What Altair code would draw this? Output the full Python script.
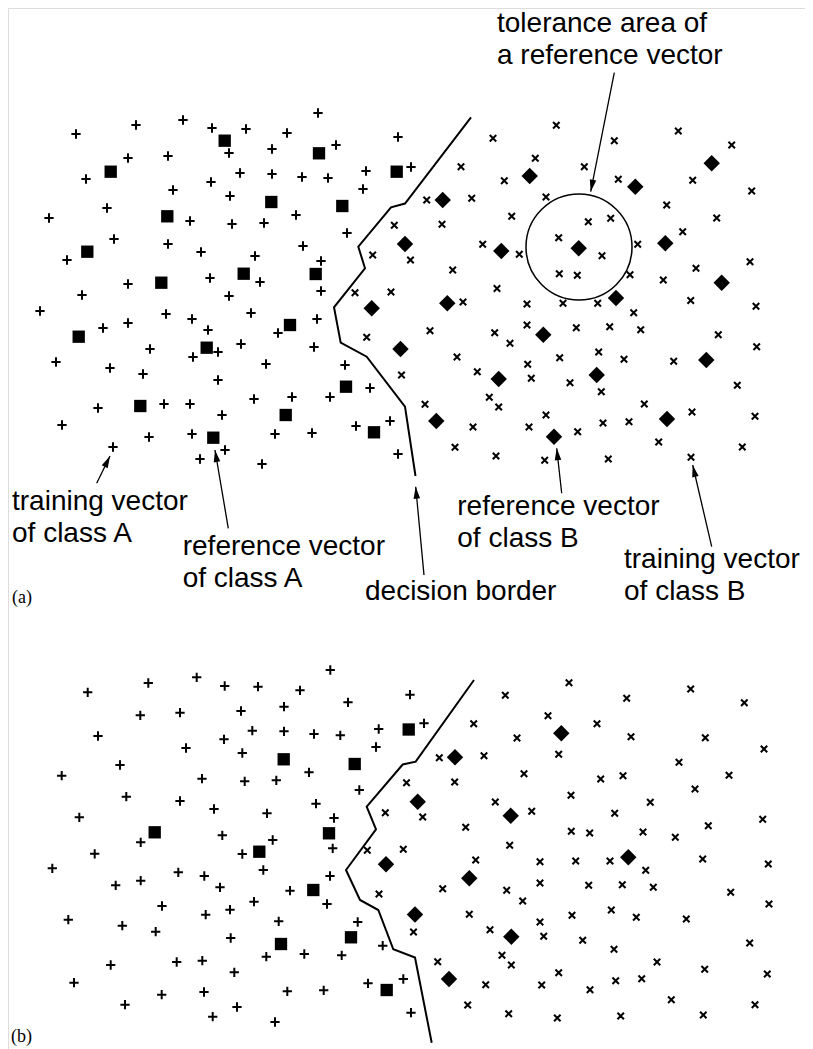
import math
import altair as alt
import pandas as pd

# ---------------- panel (a) ----------------
a_train_A = [
    (318, 113), (136, 125), (183, 120), (76, 134), (212, 128), (246, 129), (287, 133), (398, 137),
    (336, 145), (229, 153), (272, 149), (168, 156), (128, 158), (411, 167), (86, 179), (240, 173),
    (272, 174), (302, 177), (328, 178), (366, 171), (211, 182), (173, 190), (230, 196), (363, 189),
    (107, 208), (49, 218), (190, 221), (232, 224), (264, 223), (296, 215), (347, 233), (114, 239),
    (168, 244), (201, 252), (255, 256), (303, 246), (321, 261), (67, 260), (128, 284), (210, 278),
    (260, 282), (321, 291), (82, 295), (229, 296),
    (40, 311), (166, 314), (192, 319), (251, 313), (317, 319), (103, 328), (128, 323), (208, 330),
    (278, 333), (150, 349), (193, 357), (218, 352), (241, 344), (314, 347), (56, 362), (110, 368),
    (143, 374), (218, 380), (266, 364), (345, 365), (98, 408), (164, 404), (190, 404), (254, 399),
    (292, 397), (330, 397), (370, 388), (62, 425), (222, 415), (149, 437), (192, 434), (275, 434),
    (312, 433), (356, 426), (390, 421), (113, 447), (225, 450), (200, 459), (262, 464), (398, 454),
]
a_ref_A = [
    (224.7, 140.7), (319, 153.3), (110.7, 171.7), (396.7, 171.7), (271.3, 202), (342.3, 206),
    (167.3, 216.3), (87.3, 251.7), (243.7, 273.7), (315.7, 274), (161.3, 282.7), (78.7, 336.7),
    (290, 325), (206.7, 347.7), (346, 386.7), (140.3, 406), (285.7, 415), (374, 432.3), (213.3, 437.7),
]
a_train_B = [
    (394.3, 225.3), (372.7, 255), (410.5, 260), (355, 292.7), (391, 292), (366.7, 337.3), (401.5, 375),
    (556.3, 125.3), (493, 138.3), (614.3, 140.7), (678.3, 131), (731.7, 145), (535.3, 158.3),
    (461, 166.7), (584.3, 166.7), (504.3, 180.7), (618.3, 179.3), (692.7, 180.3), (751.7, 191),
    (426.7, 200), (471.7, 198.3), (546, 197), (666.7, 205), (442, 224.3), (511.7, 216.3),
    (588.3, 221.7), (610.7, 218.3), (716.7, 218), (558.7, 237.7), (682.7, 231.7), (482.7, 244.3),
    (519.3, 254.3), (602, 255.7), (637.7, 244.3), (750, 261.7), (452.7, 270), (559.3, 273.7),
    (577.3, 275.3), (630, 274.7), (696, 268.3), (663.3, 280), (497, 288.5), (690.7, 300.5),
    (463, 302), (527, 304), (563, 303.3), (597.7, 303.3), (633.7, 312.7), (756, 306.3),
    (430, 330.7), (494.7, 332.7), (527, 325), (510, 343.3), (576.3, 327.7), (609.7, 326.7),
    (640.7, 329.7), (718.3, 334.7), (756.7, 346.7), (457, 357), (477.3, 371.7), (527.7, 364.3),
    (531.3, 378.3), (559.7, 357.7), (598.7, 352), (624, 359.3), (673.7, 361.3), (570, 382.7),
    (601.3, 391.7), (737.3, 385.3), (425, 404.3), (489.3, 397.3), (498.7, 407), (546, 415),
    (644.3, 404), (692, 412), (755, 416.3), (473, 427), (529, 427), (577.7, 431.7), (603, 423),
    (629, 421.7), (658.7, 442), (742.3, 447), (455, 447.3), (496, 456), (544.7, 460.3),
    (608.3, 459), (691, 457.3),
]
a_ref_B = [
    (405, 244), (371.7, 308.3), (400.5, 349), (711.7, 163.3), (529.7, 176), (635.3, 186.7),
    (442.7, 200), (501.3, 251), (578.7, 248.3), (665.3, 243.3), (721.7, 282.7), (616, 298),
    (447.3, 303.3), (543.3, 334.7), (706.3, 360), (498.7, 379), (596.7, 375), (436.3, 421),
    (667, 419), (554, 436.7),
]
a_border = [
    (471, 117.3), (405, 203.5), (391, 207.3), (358.3, 246.7), (365, 268.3), (334, 307.3),
    (340.7, 342.7), (366.7, 356.7), (405, 406.7), (415.5, 476),
]
a_circle = [(579, 247)]
a_circle_diameter = 106

# ---------------- panel (b) ----------------
b_train_A = [
    (330.3, 670), (148.3, 683), (196.7, 677.3), (87.7, 692.3), (224.7, 686), (258, 686.7),
    (300, 690.3), (410, 694.7), (348, 702.3), (140.3, 715.3), (180, 712.7), (241, 711),
    (284, 706.7), (98, 736), (252.3, 730.7), (284, 731.3), (314, 734), (340.3, 735.3),
    (378.7, 729), (224, 739.3), (186, 748), (242.3, 753), (376, 747), (120, 765), (61.7, 775.7),
    (202, 778.7), (244.7, 781.3), (276.3, 780.3), (309, 772.3), (359.3, 790), (126.3, 796.7),
    (180, 801), (214, 809), (267, 813.3), (316, 803.7), (334, 818), (79.3, 817.3), (140.7, 842.3),
    (222.3, 835.3), (272.7, 840), (332.7, 848.3), (94.7, 853.8), (242.3, 854), (424, 723.3),
    (52.3, 868.3), (178.3, 872.3), (204.3, 876), (140.7, 880.7), (115.7, 885.3), (220, 887.3),
    (263.3, 870), (330, 876), (290, 890.7), (327, 904), (254, 901.7), (162, 906), (230, 909.7),
    (205.7, 914.7), (68.3, 919.7), (122.3, 925.7), (155.7, 931.7), (230.7, 938), (278.7, 921.3),
    (357.7, 922), (382.7, 945.7), (110.7, 965), (176.7, 962), (202.3, 960.7), (266.3, 956.7),
    (304.3, 954), (341.7, 955.3), (234.3, 972.3), (74, 982.7), (161.7, 994.7), (204, 992),
    (287.3, 991.3), (323.7, 990.3), (368, 983.3), (403.3, 979), (125, 1004.7), (237, 1007),
    (212.7, 1016.7), (275, 1022), (411, 1012.7),
]
b_ref_A = [
    (408.7, 729.5), (283.7, 759.3), (354.7, 764), (154.7, 832.3), (329, 833.3), (259.3, 851.7),
    (313.3, 890), (281, 944), (351, 937.3), (386.7, 990),
]
b_train_B = [
    (406.5, 782.7), (385.3, 812.7), (367.3, 850.3), (403.3, 849.3), (379, 894), (413.5, 932),
    (569, 682.7), (505.3, 695.3), (626.7, 698.3), (690.7, 689), (744.3, 702.7), (548, 715.7),
    (473.7, 723.7), (597, 723.7), (517, 738), (631, 736.7), (705.3, 737.7), (764, 749),
    (439.3, 757.7), (484, 755.7), (558.7, 754.3), (679, 762.3), (454.7, 782), (524, 773.7),
    (600.7, 779), (623, 775.7), (729, 775.3), (695, 789), (571, 795.3), (495.3, 802),
    (422.7, 817), (531.7, 811.3), (614.7, 813.3), (650.3, 802.3), (762.7, 819.3), (465.7, 827.3),
    (571.3, 831.3), (589.7, 833), (643, 832), (675.3, 837.3), (708.3, 825.7), (509.7, 845.3),
    (475.7, 860), (540, 861.7), (575.7, 861), (610, 861), (702.7, 859), (768.3, 864),
    (645.7, 870.3), (442.7, 888.7), (506.7, 890.3), (540, 883), (522.7, 901), (588.7, 885.3),
    (622.3, 884.7), (653.3, 887.3), (730.7, 892.3), (769, 904), (469.3, 914.3), (490, 929.7),
    (540, 922), (543.7, 936.3), (572, 915.3), (611.3, 910), (636.3, 917.3), (686.3, 919),
    (582.7, 940.3), (614, 949.3), (749.7, 943), (437.7, 961.7), (502, 955.3), (511.3, 965),
    (657, 962), (704.7, 969.3), (767.3, 974), (485.7, 984.7), (541.7, 985), (558.7, 972.7),
    (590, 989.7), (615.7, 980.7), (641.7, 978.7), (671.3, 999.7), (755, 1004.7), (467.7, 1005),
    (508.7, 1013.7), (557.3, 1018), (620.7, 1016), (703.3, 1015),
]
b_ref_B = [
    (561.3, 733.3), (455, 757.3), (417.7, 801.7), (510.7, 815.7), (628.3, 857.3), (386, 864.3),
    (415, 914.5), (469.3, 878.3), (511.3, 936.7), (449, 979),
]
b_border = [
    (474, 680), (415.7, 761.7), (402.7, 764.5), (366.7, 806.7), (376, 829.3), (346, 870),
    (360, 900), (378.3, 910), (393.3, 949.3), (415, 957.5), (431.7, 1042.7),
]

# ---------------- annotations ----------------
label_text = ["tolerance area of", "a reference vector",
              "training vector", "of class A", "reference vector", "of class A", "decision border",
              "reference vector", "of class B", "training vector", "of class B"]
label_pos = [(497, 31.5), (497, 63.5),
             (12, 510), (12, 541.7), (182.7, 555), (182.7, 586.7), (365, 600),
             (457.3, 514.5), (457.3, 546.7), (624, 568.3), (624, 600)]
panel_text = ["(a)", "(b)"]
panel_pos = [(12, 603), (11, 1042)]
arrow_tail = [(96.7, 483.3), (228.3, 528.3), (424, 575), (561.7, 493.3), (711.7, 546.7), (614.3, 72.7)]
arrow_tip = [(110, 456), (215, 450), (415.7, 486.7), (556.7, 448.3), (692.7, 465), (590.7, 191.7)]
head_len = 12


def pts(points):
    return pd.DataFrame({"x": [p[0] for p in points], "y": [p[1] for p in points]})


X = alt.X("x:Q", scale=alt.Scale(domain=[8, 805], nice=False, zero=False), axis=None)
Y = alt.Y("y:Q", scale=alt.Scale(domain=[8, 1049], nice=False, zero=False, reverse=True), axis=None)

PLUS = "M-1,0L1,0M0,-1L0,1"
CROSS = "M-1,-1L1,1M-1,1L1,-1"
HEAD = "M0,-1L0.55,1L-0.55,1Z"


def plus_layer(points):
    return alt.Chart(pts(points)).mark_point(shape=PLUS, filled=False, size=86, strokeWidth=2,
                                             color="black", opacity=1).encode(X, Y)


def cross_layer(points):
    return alt.Chart(pts(points)).mark_point(shape=CROSS, filled=False, size=42, strokeWidth=2,
                                             color="black", opacity=1).encode(X, Y)


def square_layer(points):
    return alt.Chart(pts(points)).mark_point(shape="square", filled=True, size=152, strokeWidth=0,
                                             color="black", opacity=1).encode(X, Y)


def diamond_layer(points):
    return alt.Chart(pts(points)).mark_point(shape="diamond", filled=True, size=270, strokeWidth=0,
                                             color="black", opacity=1).encode(X, Y)


border_df = pd.concat([
    pd.DataFrame({"x": [p[0] for p in a_border], "y": [p[1] for p in a_border],
                  "i": list(range(len(a_border))), "panel": "a"}),
    pd.DataFrame({"x": [p[0] for p in b_border], "y": [p[1] for p in b_border],
                  "i": list(range(len(b_border))), "panel": "b"}),
])
borders = alt.Chart(border_df).mark_line(color="black", strokeWidth=2).encode(
    X, Y, detail="panel:N", order="i:Q")

circle = alt.Chart(pts(a_circle)).mark_point(shape="circle", filled=False,
                                             size=a_circle_diameter ** 2, strokeWidth=1.5,
                                             color="black", opacity=1).encode(X, Y)

rule_df = pd.DataFrame({"x": [t[0] for t in arrow_tail], "y": [t[1] for t in arrow_tail],
                        "x2": [t[0] for t in arrow_tip], "y2": [t[1] for t in arrow_tip]})
rules = alt.Chart(rule_df).mark_rule(color="black", strokeWidth=1.3).encode(
    X, Y, x2="x2:Q", y2="y2:Q")

hx, hy, ha = [], [], []
for (tx, ty), (px, py) in zip(arrow_tail, arrow_tip):
    dx, dy = px - tx, py - ty
    n = math.hypot(dx, dy)
    ux, uy = dx / n, dy / n
    hx.append(px - ux * head_len / 2)
    hy.append(py - uy * head_len / 2)
    ha.append(math.degrees(math.atan2(dx, -dy)) % 360)
head_df = pd.DataFrame({"x": hx, "y": hy, "angle": ha})
heads = alt.Chart(head_df).mark_point(shape=HEAD, filled=True, size=head_len ** 2, strokeWidth=0,
                                      color="black", opacity=1).encode(
    X, Y, angle=alt.Angle("angle:Q", scale=None))

lab_df = pd.DataFrame({"x": [p[0] for p in label_pos], "y": [p[1] for p in label_pos], "t": label_text})
labels = alt.Chart(lab_df).mark_text(align="left", baseline="alphabetic", font="Liberation Sans",
                                     fontSize=28, color="black").encode(X, Y, text="t:N")

pan_df = pd.DataFrame({"x": [p[0] for p in panel_pos], "y": [p[1] for p in panel_pos], "t": panel_text})
panels = alt.Chart(pan_df).mark_text(align="left", baseline="alphabetic", font="Liberation Serif",
                                     fontSize=18, color="black").encode(X, Y, text="t:N")

chart = alt.layer(
    borders, circle, rules, heads,
    plus_layer(a_train_A), square_layer(a_ref_A), cross_layer(a_train_B), diamond_layer(a_ref_B),
    plus_layer(b_train_A), square_layer(b_ref_A), cross_layer(b_train_B), diamond_layer(b_ref_B),
    labels, panels,
).properties(
    width=797, height=1041, autosize=alt.AutoSizeParams(type="none"), padding=0,
).configure_view(strokeWidth=0, stroke="transparent").configure(background="white")

chart.save("out.html", embed_options={"renderer": "svg", "actions": False})
